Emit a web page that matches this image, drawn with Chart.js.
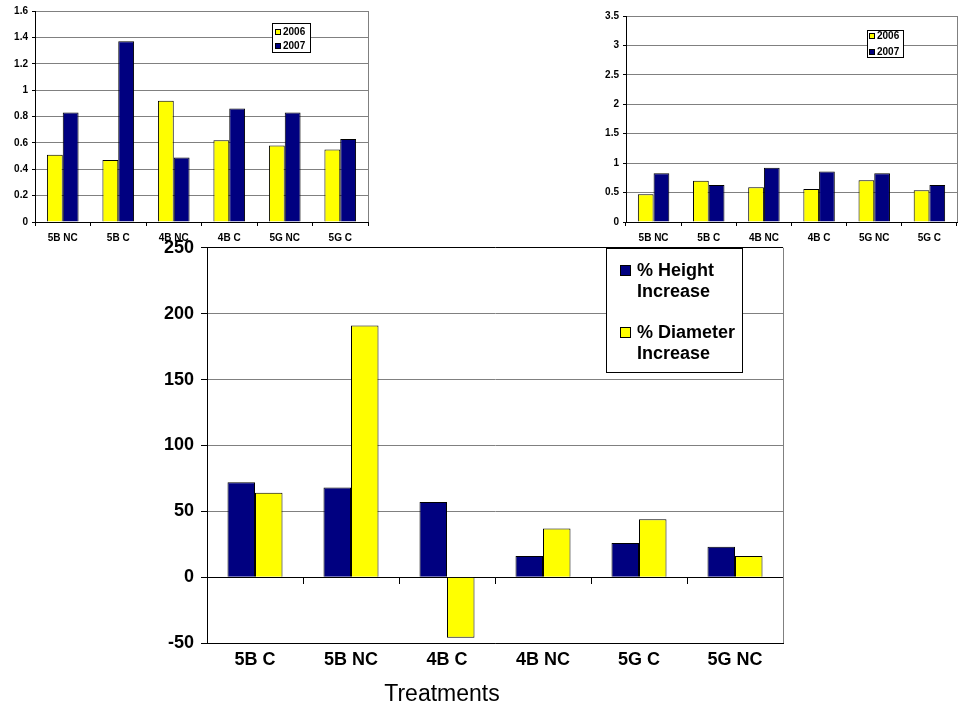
<!DOCTYPE html>
<html>
<head>
<meta charset="utf-8">
<script src="https://cdn.jsdelivr.net/npm/chart.js@4.4.1/dist/chart.umd.min.js"></script>
<style>
    body { margin: 0; background: #fff; }
    canvas { position: absolute; }
</style>
</head>
<body>
<canvas id="chartEsquerda" width="380" height="250" style="left:0px; top:0px;"></canvas>
<canvas id="chartDireita" width="373" height="250" style="left:590px; top:0px;"></canvas>
<canvas id="chartTratamentos" width="660" height="476" style="left:150px; top:230px;"></canvas>
<script>
// top charts: yearly values per treatment
var topTreatments = ['5B NC', '5B C', '4B NC', '4B C', '5G NC', '5G C'];
var topSeries = ['2006', '2007'];
var left2006 = [0.51, 0.47, 0.92, 0.62, 0.58, 0.55];
var left2007 = [0.83, 1.37, 0.49, 0.86, 0.83, 0.63];
var right2006 = [0.47, 0.70, 0.59, 0.56, 0.71, 0.54];
var right2007 = [0.83, 0.63, 0.92, 0.86, 0.83, 0.63];

// bottom chart: % increase per treatment
var treatments = ['5B C', '5B NC', '4B C', '4B NC', '5G C', '5G NC'];
var heightSeries = ['% Height', 'Increase'];
var diameterSeries = ['% Diameter', 'Increase'];
var heightIncrease = [72, 68, 57, 16, 26, 23];
var diameterIncrease = [64, 191, -46, 37, 44, 16];
var xTitle = 'Treatments';

var navy = '#000080';
var yellow = '#FFFF00';
var font = 'Liberation Sans, Arial, sans-serif';

// Excel style numbers: 1 instead of 1.0, 0 instead of 0.0
function plainNumber(value) {
    return String(Number(Number(value).toFixed(2)));
}

// legend box drawn inside the plot, like the Excel original
const boxLegend = {
    id: 'boxLegend',
    afterDraw(chart, args, opts) {
        const ctx = chart.ctx;
        ctx.save();
        ctx.fillStyle = '#fff';
        ctx.fillRect(opts.x, opts.y, opts.w, opts.h);
        ctx.strokeStyle = '#000';
        ctx.lineWidth = 1;
        ctx.strokeRect(opts.x + 0.5, opts.y + 0.5, opts.w, opts.h);
        ctx.font = 'bold ' + opts.size + 'px ' + font;
        ctx.textBaseline = 'alphabetic';
        ctx.textAlign = 'left';
        chart.data.datasets.forEach(function (ds, i) {
            var base = opts.baselines[i];
            var s = opts.swatch;
            ctx.fillStyle = ds.backgroundColor;
            ctx.fillRect(opts.swatchX, base - s, s, s);
            ctx.strokeRect(opts.swatchX + 0.5, base - s + 0.5, s - 1, s - 1);
            ctx.fillStyle = '#000';
            var lines = ds.legendLines || [ds.label];
            for (var j = 0; j < lines.length; j++) {
                ctx.fillText(lines[j], opts.textX, base + j * opts.lineHeight);
            }
        });
        ctx.restore();
    }
};

// grey right edge of the plot area
const rightEdge = {
    id: 'rightEdge',
    afterDraw(chart) {
        const { ctx, chartArea: { top, right, bottom } } = chart;
        ctx.save();
        ctx.strokeStyle = '#808080';
        ctx.lineWidth = 1;
        ctx.beginPath();
        ctx.moveTo(Math.round(right) + 0.5, top);
        ctx.lineTo(Math.round(right) + 0.5, bottom);
        ctx.stroke();
        ctx.restore();
    }
};

// axis title placed off-centre as in the picture
const axisTitle = {
    id: 'axisTitle',
    afterDraw(chart, args, opts) {
        const ctx = chart.ctx;
        ctx.save();
        ctx.font = opts.size + 'px ' + font;
        ctx.fillStyle = '#000';
        ctx.textAlign = 'center';
        ctx.textBaseline = 'alphabetic';
        ctx.fillText(opts.text, opts.x, opts.y);
        ctx.restore();
    }
};

function smallChart(id, d2006, d2007, yMax, yStep, yWidth, pad, legendOpts) {
    return new Chart(document.getElementById(id), {
        type: 'bar',
        data: {
            labels: topTreatments,
            datasets: [
                { label: topSeries[0], data: d2006, backgroundColor: yellow, borderColor: '#000', borderWidth: 1 },
                { label: topSeries[1], data: d2007, backgroundColor: navy, borderColor: '#000', borderWidth: 1 }
            ]
        },
        options: {
            responsive: false,
            animation: false,
            layout: { padding: pad },
            datasets: { bar: { categoryPercentage: 0.57, barPercentage: 1 } },
            plugins: {
                legend: { display: false },
                tooltip: { enabled: false },
                boxLegend: legendOpts
            },
            scales: {
                x: {
                    afterFit: function (s) { s.height = 28; },
                    grid: { offset: true, drawOnChartArea: false, tickLength: 4, color: '#000' },
                    border: { color: '#000' },
                    ticks: { color: '#000', padding: 6, font: { family: font, size: 10, weight: 'bold' } }
                },
                y: {
                    min: 0,
                    max: yMax,
                    afterFit: function (s) { s.width = yWidth; },
                    grid: { color: '#808080', tickColor: '#000', tickLength: 3 },
                    border: { color: '#000' },
                    ticks: {
                        stepSize: yStep,
                        color: '#000',
                        padding: 4,
                        font: { family: font, size: 10, weight: 'bold' },
                        callback: plainNumber
                    }
                }
            }
        },
        plugins: [boxLegend, rightEdge]
    });
}

smallChart('chartEsquerda', left2006, left2007, 1.6, 0.2, 35,
    { top: 11, right: 12, left: 0, bottom: 0 },
    { x: 272, y: 23, w: 38, h: 29, size: 10, swatch: 6, swatchX: 275, textX: 283, baselines: [35, 49], lineHeight: 12 });

smallChart('chartDireita', right2006, right2007, 3.5, 0.5, 36,
    { top: 16, right: 6, left: 0, bottom: 0 },
    { x: 277, y: 30, w: 36, h: 27, size: 10, swatch: 6, swatchX: 279, textX: 287, baselines: [39, 55], lineHeight: 12 });

new Chart(document.getElementById('chartTratamentos'), {
    type: 'bar',
    data: {
        labels: treatments,
        datasets: [
            { label: heightSeries.join(' '), legendLines: heightSeries, data: heightIncrease, xAxisID: 'x', backgroundColor: navy, borderColor: '#000', borderWidth: 1 },
            { label: diameterSeries.join(' '), legendLines: diameterSeries, data: diameterIncrease, xAxisID: 'x', backgroundColor: yellow, borderColor: '#000', borderWidth: 1 }
        ]
    },
    options: {
        responsive: false,
        animation: false,
        layout: { padding: { top: 14, right: 27, left: 0, bottom: 0 } },
        datasets: { bar: { categoryPercentage: 0.573, barPercentage: 1 } },
        plugins: {
            legend: { display: false },
            tooltip: { enabled: false },
            boxLegend: { x: 456, y: 18, w: 136, h: 124, size: 18, swatch: 11, swatchX: 470, textX: 487, baselines: [46, 108], lineHeight: 21 },
            axisTitle: { text: xTitle, x: 292, y: 471, size: 23 }
        },
        scales: {
            x: {
                afterFit: function (s) { s.height = 63; },
                grid: { display: false, drawTicks: false },
                border: { display: true, color: '#000' },
                ticks: { color: '#000', padding: 6, font: { family: font, size: 18, weight: 'bold' } }
            },
            // category tick marks sitting on the zero line
            x2: {
                type: 'category',
                position: { y: 0 },
                grid: { offset: true, drawOnChartArea: false, tickLength: 6, color: '#000' },
                border: { display: true, color: '#000' },
                ticks: { display: false }
            },
            y: {
                min: -50,
                max: 250,
                afterFit: function (s) { s.width = 57; },
                grid: {
                    tickLength: 6,
                    tickColor: '#000',
                    color: function (c) { return (c.tick && (c.tick.value === 0 || c.tick.value === 250)) ? '#000' : '#808080'; }
                },
                border: { color: '#000' },
                ticks: { stepSize: 50, color: '#000', padding: 7, font: { family: font, size: 18, weight: 'bold' } }
            }
        }
    },
    plugins: [boxLegend, rightEdge, axisTitle]
});
</script>
</body>
</html>
